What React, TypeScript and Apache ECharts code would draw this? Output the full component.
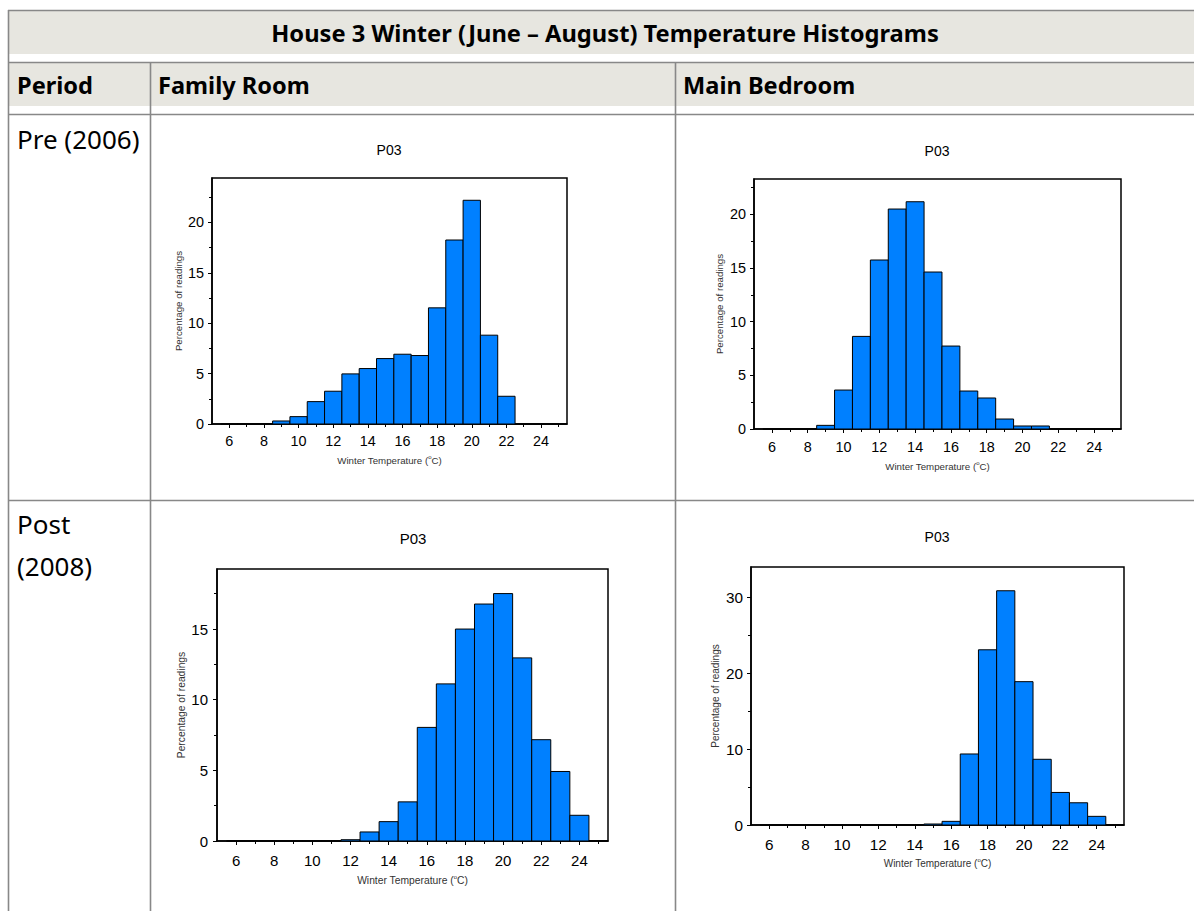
import React, { useEffect, useRef } from "react";
import * as echarts from "echarts";

// ---- data ----
const binCenters = [6, 7, 8, 9, 10, 11, 12, 13, 14, 15, 16, 17, 18, 19, 20, 21, 22, 23, 24, 25];
const familyPre = [0, 0, 0, 0.3, 0.73, 2.22, 3.25, 4.97, 5.5, 6.49, 6.92, 6.79, 11.52, 18.25, 22.19, 8.81, 2.75, 0, 0, 0];
const bedroomPre = [0, 0, 0, 0.34, 3.63, 8.63, 15.75, 20.5, 21.18, 14.63, 7.73, 3.54, 2.89, 0.93, 0.28, 0.28, 0, 0, 0, 0];
const familyPost = [0, 0, 0, 0, 0, 0, 0.09, 0.64, 1.37, 2.77, 8.04, 11.12, 15.0, 16.77, 17.51, 12.96, 7.17, 4.92, 1.82, 0];
const bedroomPost = [0, 0, 0, 0, 0, 0, 0, 0, 0, 0.13, 0.48, 9.36, 23.09, 30.87, 18.89, 8.66, 4.29, 2.93, 1.14, 0];

const xTickLabels = [6, 8, 10, 12, 14, 16, 18, 20, 22, 24];
const xMinorTicks = [7, 9, 11, 13, 15, 17, 19, 21, 23, 25];
const xRange = [5, 25.5];

const yTicks5 = [0, 5, 10, 15, 20];
const yMinor5 = [2.5, 7.5, 12.5, 17.5, 22.5];
const yTicksPost = [0, 5, 10, 15];
const yMinorPost = [2.5, 7.5, 12.5, 17.5];
const yTicks10 = [0, 10, 20, 30];
const yMinor10 = [5, 15, 25];

const yMaxes = [24.4, 23.3, 19.25, 34];

const tableTitle = "House 3 Winter (June \u2013 August) Temperature Histograms";
const headers = ["Period", "Family Room", "Main Bedroom"];
const chartTitle = "P03";
const yName = "Percentage of readings";
const xName = "Winter Temperature ({s|o}C)";

// ---- layout (positions / sizes) ----
const panels = [
  { data: familyPre, yTicks: yTicks5, yMinor: yMinor5, grid: { left: 212, top: 178, width: 355, height: 246 }, titleX: 389, titleY: 150, tickFont: 14.4, titleFont: 14, nameFont: 9.7, xNameGap: 30, yNameGap: 29, xLabelMargin: 10, yLabelMargin: 8 },
  { data: bedroomPre, yTicks: yTicks5, yMinor: yMinor5, grid: { left: 754, top: 179, width: 367, height: 250 }, titleX: 937, titleY: 151, tickFont: 14.4, titleFont: 14, nameFont: 9.7, xNameGap: 31, yNameGap: 30, xLabelMargin: 11, yLabelMargin: 8 },
  { data: familyPost, yTicks: yTicksPost, yMinor: yMinorPost, grid: { left: 217, top: 569, width: 391, height: 272 }, titleX: 413, titleY: 538, tickFont: 15, titleFont: 15, nameFont: 10.3, xNameGap: 33, yNameGap: 31, xLabelMargin: 12, yLabelMargin: 9 },
  { data: bedroomPost, yTicks: yTicks10, yMinor: yMinor10, grid: { left: 751, top: 567, width: 373, height: 258 }, titleX: 937, titleY: 537, tickFont: 15.3, titleFont: 14, nameFont: 10, xNameGap: 32, yNameGap: 31, xLabelMargin: 12, yLabelMargin: 8 },
];

const LINE = "#888888";
const BG = "#e7e6e0";
const TABLE_FONT = "'Noto Sans', sans-serif";
const CHART_FONT = "'Liberation Sans', Arial, sans-serif";

function buildOption() {
  const grid: any[] = [];
  const xAxis: any[] = [];
  const yAxis: any[] = [];
  const series: any[] = [];
  const graphic: any[] = [];

  // table backgrounds
  graphic.push({ type: "rect", silent: true, shape: { x: 8, y: 11, width: 1186, height: 43 }, style: { fill: BG } });
  graphic.push({ type: "rect", silent: true, shape: { x: 8, y: 63, width: 1186, height: 43 }, style: { fill: BG } });
  // table lines
  const hLines = [10.5, 62.5, 114.5, 500.5];
  hLines.forEach((y) =>
    graphic.push({ type: "line", silent: true, shape: { x1: 8, y1: y, x2: 1194, y2: y }, style: { stroke: LINE, lineWidth: 1.6 } })
  );
  graphic.push({ type: "line", silent: true, shape: { x1: 8.5, y1: 10, x2: 8.5, y2: 911 }, style: { stroke: LINE, lineWidth: 1.6 } });
  [150.5, 675.5].forEach((x) =>
    graphic.push({ type: "line", silent: true, shape: { x1: x, y1: 62, x2: x, y2: 911 }, style: { stroke: LINE, lineWidth: 1.6 } })
  );
  // table texts
  graphic.push({ type: "text", silent: true, x: 605, y: 33, style: { text: tableTitle, font: `bold 23.7px ${TABLE_FONT}`, fill: "#000", align: "center", verticalAlign: "middle" } });
  const headerX = [17, 158, 683];
  headers.forEach((h, i) =>
    graphic.push({ type: "text", silent: true, x: headerX[i], y: 85, style: { text: h, font: `bold 23.6px ${TABLE_FONT}`, fill: "#000", align: "left", verticalAlign: "middle" } })
  );
  graphic.push({ type: "text", silent: true, x: 17, y: 139, style: { text: "Pre (2006)", font: `26px ${TABLE_FONT}`, fill: "#000", align: "left", verticalAlign: "middle" } });
  graphic.push({ type: "text", silent: true, x: 17, y: 524, style: { text: "Post", font: `26px ${TABLE_FONT}`, fill: "#000", align: "left", verticalAlign: "middle" } });
  graphic.push({ type: "text", silent: true, x: 17, y: 566, style: { text: "(2008)", font: `26px ${TABLE_FONT}`, fill: "#000", align: "left", verticalAlign: "middle" } });

  panels.forEach((p, i) => {
    grid.push({ ...p.grid, show: true, borderColor: "#000", borderWidth: 1.5, backgroundColor: "transparent", containLabel: false });
    // major x axis
    xAxis.push({
      type: "value", gridIndex: i, min: xRange[0], max: xRange[1], position: "bottom",
      name: xName, nameLocation: "middle", nameGap: p.xNameGap,
      nameTextStyle: { fontFamily: CHART_FONT, fontSize: p.nameFont, color: "#333", lineHeight: 12, rich: { s: { fontFamily: CHART_FONT, fontSize: 6, lineHeight: 6, verticalAlign: "top", color: "#333" } } },
      axisLine: { show: true, onZero: false, lineStyle: { color: "#000", width: 1.5 } },
      axisTick: { show: true, length: 4, customValues: xTickLabels, lineStyle: { color: "#000", width: 1 } },
      axisLabel: { show: true, customValues: xTickLabels, margin: p.xLabelMargin, fontFamily: CHART_FONT, fontSize: p.tickFont, color: "#000" },
      splitLine: { show: false },
    });
    // minor x ticks
    xAxis.push({
      type: "value", gridIndex: i, min: xRange[0], max: xRange[1], position: "bottom",
      axisLine: { show: false, onZero: false },
      axisTick: { show: true, length: 3, customValues: xMinorTicks, lineStyle: { color: "#000", width: 1 } },
      axisLabel: { show: false },
      splitLine: { show: false },
    });
    yAxis.push({
      type: "value", gridIndex: i, min: 0, max: yMaxes[i], position: "left",
      name: yName, nameLocation: "middle", nameGap: p.yNameGap,
      nameTextStyle: { fontFamily: CHART_FONT, fontSize: p.nameFont, color: "#333" },
      axisLine: { show: true, onZero: false, lineStyle: { color: "#000", width: 1.5 } },
      axisTick: { show: true, length: 4, customValues: p.yTicks, lineStyle: { color: "#000", width: 1 } },
      axisLabel: { show: true, customValues: p.yTicks, margin: p.yLabelMargin, fontFamily: CHART_FONT, fontSize: p.tickFont, color: "#000" },
      splitLine: { show: false },
    });
    yAxis.push({
      type: "value", gridIndex: i, min: 0, max: yMaxes[i], position: "left",
      axisLine: { show: false, onZero: false },
      axisTick: { show: true, length: 3, customValues: p.yMinor, lineStyle: { color: "#000", width: 1 } },
      axisLabel: { show: false },
      splitLine: { show: false },
    });
    series.push({
      type: "custom",
      xAxisIndex: i * 2,
      yAxisIndex: i * 2,
      data: binCenters.map((c, k) => [c, p.data[k]]),
      encode: { x: 0, y: 1 },
      renderItem: (_params: any, api: any) => {
        const x = api.value(0);
        const y = api.value(1);
        const p0 = api.coord([x - 0.5, y]);
        const p1 = api.coord([x + 0.5, 0]);
        return {
          type: "rect",
          shape: { x: p0[0], y: p0[1], width: p1[0] - p0[0], height: p1[1] - p0[1] },
          style: { fill: "#0080ff", stroke: "#000", lineWidth: 1 },
        };
      },
    });
    graphic.push({ type: "text", silent: true, x: p.titleX, y: p.titleY, style: { text: chartTitle, font: `${p.titleFont}px ${CHART_FONT}`, fill: "#000", align: "center", verticalAlign: "middle" } });
  });

  return {
    animation: false,
    backgroundColor: "#ffffff",
    grid,
    xAxis,
    yAxis,
    series,
    graphic,
  };
}

export default function App() {
  const ref = useRef<HTMLDivElement>(null);
  useEffect(() => {
    if (!ref.current) return;
    const chart = echarts.init(ref.current, undefined, { renderer: "svg" });
    chart.setOption(buildOption() as any);
    return () => chart.dispose();
  }, []);
  return <div ref={ref} style={{ position: "absolute", left: 0, top: 0, width: 1194, height: 911 }} />;
}
